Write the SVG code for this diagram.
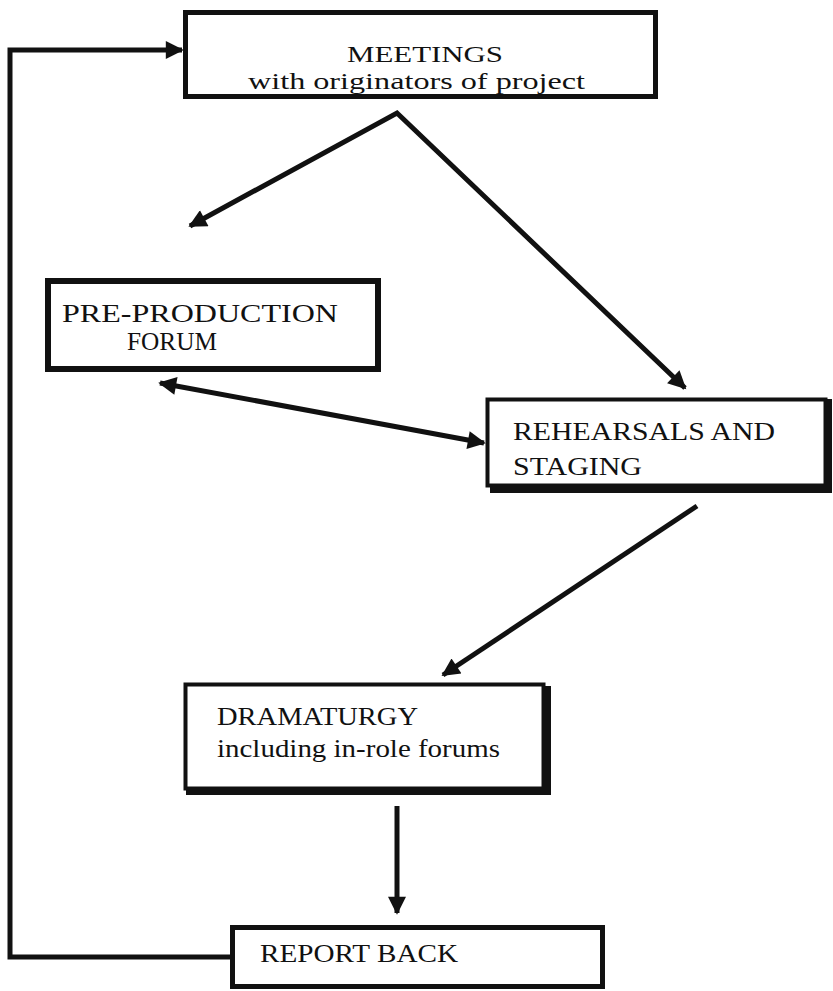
<svg xmlns="http://www.w3.org/2000/svg" width="833" height="991" viewBox="0 0 833 991">
<style>
.box{fill:#fff;stroke:#111;stroke-width:5}
.sh{fill:none;stroke:#111;stroke-width:6}
.t{font-family:"Liberation Serif","Times New Roman",serif;font-size:26px;fill:#111}
.s{font-size:24px}
.c{fill:none;stroke:#111;stroke-width:5}
</style>
<defs>
<marker id="ah" viewBox="0 0 10 10" refX="9" refY="5" markerWidth="20" markerHeight="18" markerUnits="userSpaceOnUse" orient="auto-start-reverse">
<path d="M0,0 L10,5 L0,10 z" fill="#111"/>
</marker>
</defs>
<rect width="833" height="991" fill="#fff"/>
<g id="connectors">
<polyline class="c" points="232,957 10,957 10,50 182,50" marker-end="url(#ah)"/>
<polyline class="c" points="190,226 397,113 685,388" marker-start="url(#ah)" marker-end="url(#ah)"/>
<line class="c" x1="160" y1="383" x2="484" y2="443" marker-start="url(#ah)" marker-end="url(#ah)"/>
<line class="c" x1="697" y1="506" x2="443" y2="675" marker-end="url(#ah)"/>
<line class="c" x1="397" y1="806" x2="397" y2="913" marker-end="url(#ah)"/>
</g>
<g id="meetings">
<rect class="box" x="185.5" y="12.5" width="470" height="84"/>
<text class="t s" x="347" y="62" textLength="156" lengthAdjust="spacingAndGlyphs">MEETINGS</text>
<text class="t s" x="248" y="89" textLength="337" lengthAdjust="spacingAndGlyphs">with originators of project</text>
</g>
<g id="preproduction">
<rect class="box" x="48" y="281" width="330" height="88" style="stroke-width:6"/>
<text class="t" x="62" y="322" textLength="276" lengthAdjust="spacingAndGlyphs">PRE-PRODUCTION</text>
<text class="t" x="127" y="350" textLength="90" lengthAdjust="spacingAndGlyphs">FORUM</text>
</g>
<g id="rehearsals">
<rect class="box" x="487.5" y="399.5" width="338" height="86" style="stroke-width:4"/>
<path class="sh" d="M490,490 H829 V399"/>
<text class="t" x="513" y="440" textLength="262" lengthAdjust="spacingAndGlyphs">REHEARSALS AND</text>
<text class="t" x="513" y="475" textLength="129" lengthAdjust="spacingAndGlyphs">STAGING</text>
</g>
<g id="dramaturgy">
<rect class="box" x="185.5" y="684.5" width="358" height="104" style="stroke-width:4"/>
<path class="sh" d="M186,792 H548 V686"/>
<text class="t" x="217" y="725" textLength="201" lengthAdjust="spacingAndGlyphs">DRAMATURGY</text>
<text class="t" x="217" y="757" textLength="283" lengthAdjust="spacingAndGlyphs">including in-role forums</text>
</g>
<g id="reportback">
<rect class="box" x="232.5" y="927.5" width="370" height="59"/>
<text class="t" x="260" y="962" textLength="198" lengthAdjust="spacingAndGlyphs">REPORT BACK</text>
</g>
</svg>
